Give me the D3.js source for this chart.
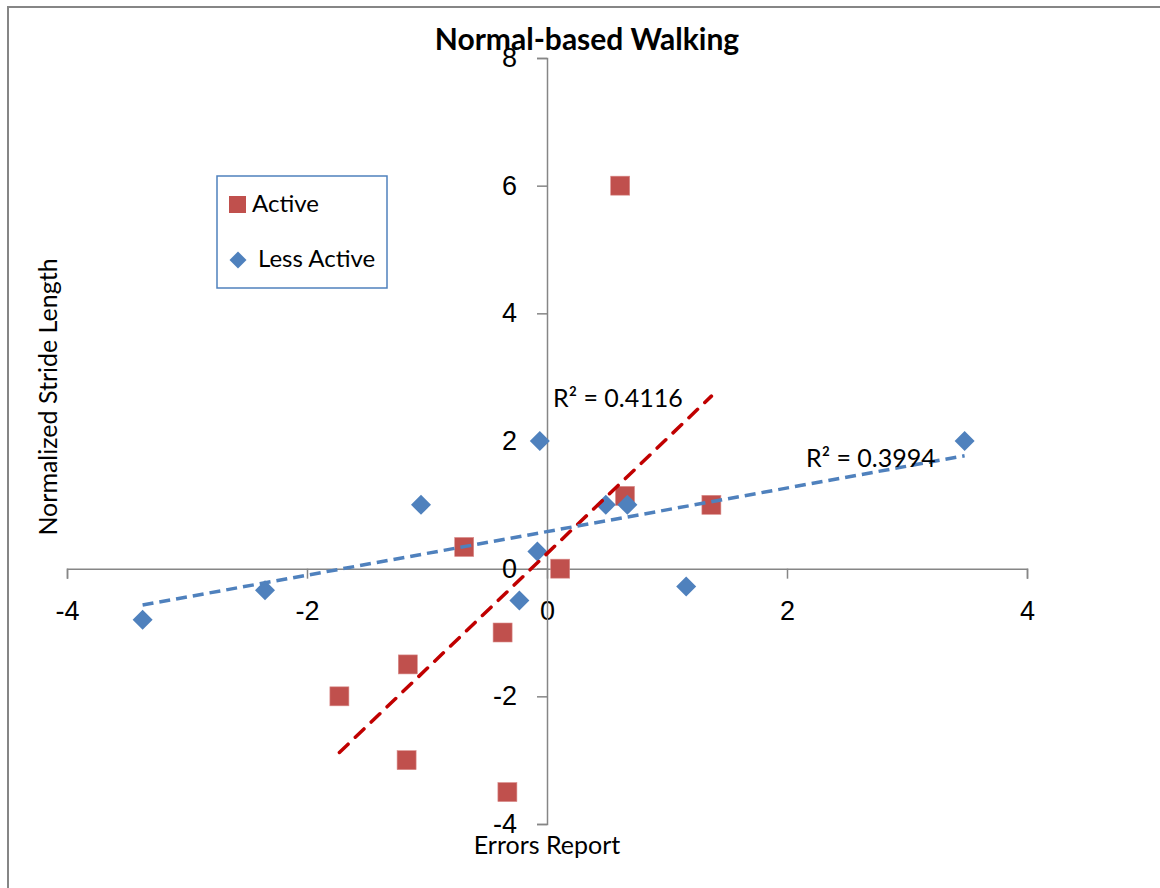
<!DOCTYPE html>
<html>
<head>
<meta charset="utf-8">
<title>Normal-based Walking</title>
<script src="https://cdn.jsdelivr.net/npm/d3@7"></script>
<style>
  html, body { margin: 0; padding: 0; background: #fff; }
  svg { display: block; font-family: Lato, "Open Sans", sans-serif; }
  .axis path, .axis line { stroke: #868686; stroke-width: 1.5; }
  .axis text { font-size: 27px; fill: #000; }
</style>
</head>
<body>
<div id="chart"></div>
<script>
/* Normal-based Walking — scatter with linear trendlines */

// ─── Data ────────────────────────────────────────────────
const activeX = [0.61, 0.65, 1.37, -0.69, 0.11, -0.37, -1.16, -1.73, -1.17, -0.33];
const activeY = [6.0, 1.14, 1.0, 0.34, 0.0, -1.0, -1.5, -2.0, -3.0, -3.5];

const lessActiveX = [-3.37, -2.35, -1.05, -0.06, -0.08, -0.23, 0.49, 0.67, 1.16, 3.48];
const lessActiveY = [-0.8, -0.34, 1.0, 2.0, 0.27, -0.5, 1.0, 1.0, -0.28, 2.0];

const xTicks = [-4, -2, 0, 2, 4];
const yTicks = [-4, -2, 0, 2, 4, 6, 8];

const seriesNames = ['Active', 'Less Active'];
const r2Labels = ['R² = 0.4116', 'R² = 0.3994'];

// ─── Setup ───────────────────────────────────────────────
const W = 1160, H = 888;
const RED = '#C0504D', BLUE = '#4F81BD';

const svg = d3.select('#chart').append('svg')
  .attr('width', W)
  .attr('height', H);

// chart border (runs off the right and bottom edge)
svg.append('rect')
  .attr('x', 8).attr('y', 7)
  .attr('width', W + 20).attr('height', H + 20)
  .attr('fill', '#fff')
  .attr('stroke', '#868686')
  .attr('stroke-width', 2);

const x = d3.scaleLinear().domain([-4, 4]).range([67, 1027]);
const y = d3.scaleLinear().domain([-4, 8]).range([824, 58]);

// ─── Axes ────────────────────────────────────────────────
svg.append('g')
  .attr('class', 'axis')
  .attr('transform', `translate(0,${y(0)})`)
  .call(d3.axisBottom(x).tickValues(xTicks).tickSize(10).tickPadding(22).tickFormat(d3.format('d')));

svg.append('g')
  .attr('class', 'axis')
  .attr('transform', `translate(${x(0)},0)`)
  .call(d3.axisLeft(y).tickValues(yTicks).tickSize(10).tickPadding(20).tickFormat(d3.format('d')));

// minus signs as plain hyphens, like the original
svg.selectAll('.axis text').text(function () { return this.textContent.replace('−', '-'); });

// ─── Trendlines ──────────────────────────────────────────
function fit(xs, ys) {
  const mx = d3.mean(xs), my = d3.mean(ys);
  let sxy = 0, sxx = 0;
  xs.forEach((v, i) => { sxy += (v - mx) * (ys[i] - my); sxx += (v - mx) * (v - mx); });
  const slope = sxy / sxx;
  return { slope, intercept: my - slope * mx, x0: d3.min(xs), x1: d3.max(xs) };
}

function trend(xs, ys, color, dash, cap) {
  const f = fit(xs, ys);
  svg.append('line')
    .attr('x1', x(f.x0)).attr('y1', y(f.intercept + f.slope * f.x0))
    .attr('x2', x(f.x1)).attr('y2', y(f.intercept + f.slope * f.x1))
    .attr('stroke', color)
    .attr('stroke-width', 3.5)
    .attr('stroke-dasharray', dash)
    .attr('stroke-linecap', cap);
}

// ─── Points ──────────────────────────────────────────────
const sq = 19;
svg.append('g').selectAll('rect')
  .data(activeX.map((v, i) => [v, activeY[i]]))
  .join('rect')
  .attr('x', d => x(d[0]) - sq / 2)
  .attr('y', d => y(d[1]) - sq / 2)
  .attr('width', sq).attr('height', sq)
  .attr('fill', RED)
  .attr('stroke', '#d98c8a')
  .attr('stroke-width', 0.6);

const diamond = d3.symbol().type(d3.symbolSquare).size(200);
svg.append('g').selectAll('path')
  .data(lessActiveX.map((v, i) => [v, lessActiveY[i]]))
  .join('path')
  .attr('d', diamond)
  .attr('transform', d => `translate(${x(d[0])},${y(d[1])}) rotate(45)`)
  .attr('fill', BLUE);

trend(activeX, activeY, '#C00000', '12,10', 'round');
trend(lessActiveX, lessActiveY, BLUE, '11,6', 'butt');

// ─── R² labels ───────────────────────────────────────────
svg.append('text').attr('x', 553).attr('y', 407)
  .attr('font-size', 25).text(r2Labels[0]);
svg.append('text').attr('x', 806).attr('y', 467)
  .attr('font-size', 25).text(r2Labels[1]);

// ─── Titles ──────────────────────────────────────────────
svg.append('text')
  .attr('x', 587).attr('y', 50)
  .attr('text-anchor', 'middle')
  .attr('font-size', 30)
  .attr('font-weight', 'bold')
  .text('Normal-based Walking');

svg.append('text')
  .attr('x', 547).attr('y', 854)
  .attr('text-anchor', 'middle')
  .attr('font-size', 25)
  .text('Errors Report');

svg.append('text')
  .attr('transform', 'translate(57,397) rotate(-90)')
  .attr('text-anchor', 'middle')
  .attr('font-size', 25)
  .text('Normalized Stride Length');

// ─── Legend ──────────────────────────────────────────────
const legend = svg.append('g');
legend.append('rect')
  .attr('x', 217).attr('y', 176)
  .attr('width', 170).attr('height', 112)
  .attr('fill', '#fff')
  .attr('stroke', BLUE)
  .attr('stroke-width', 1.5);

legend.append('rect')
  .attr('x', 229).attr('y', 196)
  .attr('width', 17).attr('height', 17)
  .attr('fill', RED);
legend.append('text')
  .attr('x', 252).attr('y', 212)
  .attr('font-size', 24)
  .text(seriesNames[0]);

legend.append('path')
  .attr('d', diamond)
  .attr('transform', 'translate(238,260) rotate(45) scale(0.85)')
  .attr('fill', BLUE);
legend.append('text')
  .attr('x', 258).attr('y', 267)
  .attr('font-size', 24)
  .text(seriesNames[1]);
</script>
</body>
</html>
